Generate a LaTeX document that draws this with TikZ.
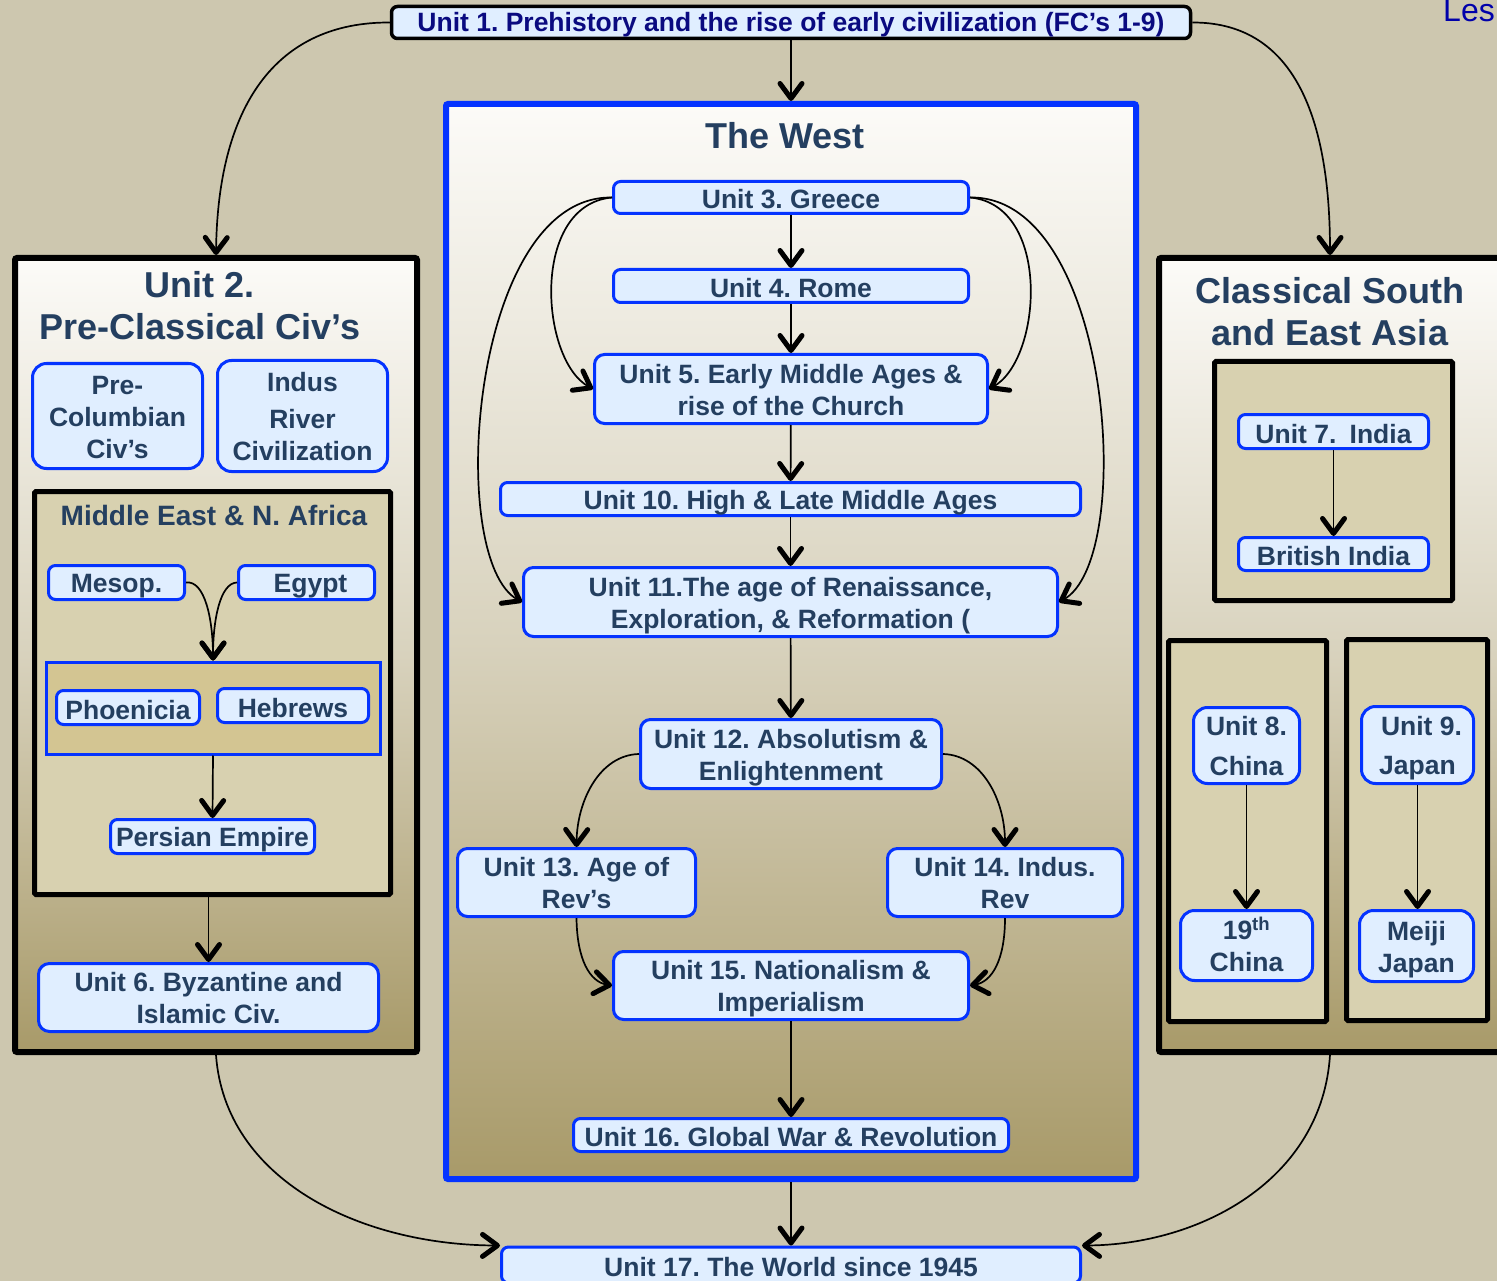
\documentclass[tikz,border=0pt]{standalone}
\usepackage{fontspec}
\setmainfont{Liberation Sans}
\usetikzlibrary{arrows.meta}

\definecolor{bg}{HTML}{CDC7AF}
\definecolor{boxfill}{HTML}{E0EEFF}
\definecolor{boxline}{HTML}{0433FF}
\definecolor{ink}{HTML}{243F60}
\definecolor{navy}{HTML}{0A0A80}
\definecolor{paneltop}{HTML}{FCFBF8}
\definecolor{panelmid}{HTML}{D8D2BD}
\definecolor{panelbot}{HTML}{A89A69}
\definecolor{regionfill}{HTML}{D8D1B0}
\definecolor{groupfill}{HTML}{D3C592}
\definecolor{lesblue}{HTML}{0000AA}

% strut that fixes the height and depth of one-line box labels
\newcommand\ustrut{\rule[-3pt]{0pt}{29pt}}
% centred multi-line label, set a little below the box centre
\newcommand\ml[1]{\raisebox{-4pt}[\height][\depth]{\begin{tabular}{@{}c@{}}#1\end{tabular}}}

\begin{document}
\frenchspacing
\begin{tikzpicture}[x=1pt,y=-1pt,
  unit/.style={draw=boxline, line width=3pt, fill=boxfill, rounded corners=7pt,
    text=ink, font=\bfseries\fontsize{26.5}{32}\selectfont, inner sep=0pt,
    execute at begin node=\ustrut},
  topunit/.style={draw=black, line width=3.5pt, fill=boxfill, rounded corners=6pt,
    text=navy, font=\bfseries\fontsize{26.5}{32}\selectfont, inner sep=0pt,
    text height=23pt, text depth=4pt},
  panel/.style={draw=black, line width=6pt, rounded corners=2pt, inner sep=0pt,
    top color=paneltop, bottom color=panelbot, middle color=panelmid},
  westpanel/.style={panel, draw=boxline},
  region/.style={draw=black, line width=5pt, rounded corners=1.5pt, fill=regionfill, inner sep=0pt},
  group/.style={draw=boxline, line width=3pt, fill=groupfill, inner sep=0pt},
  ttl/.style={text=ink, font=\bfseries\fontsize{36}{42}\selectfont, align=center, inner sep=0pt},
  subttl/.style={text=ink, font=\bfseries\fontsize{28}{32}\selectfont, inner sep=0pt},
  arr/.style={line width=1.7pt, -{Straight Barb[length=15pt,width=22pt,line width=5pt,round]}}
]
\useasboundingbox (0,0) rectangle (1497,1281);
\fill[bg] (0,0) rectangle (1497,1281);

% ---------- large panels ----------
\node[panel, minimum width=402, minimum height=794] (p2) at (216,655) {};
\node[panel, minimum width=342, minimum height=794] (p3) at (1330,655) {};
\node[westpanel, minimum width=690, minimum height=1075] (west) at (791,641.5) {};

% ---------- top and bottom units ----------
\node[topunit, minimum width=799, minimum height=32] (u1) at (791,22.5)
  {Unit 1. Prehistory and the rise of early civilization (FC’s 1-9)};
\node[unit, minimum width=579, minimum height=36] (u17) at (791,1265)
  {Unit 17. The World since 1945};
\node[anchor=base west, text=lesblue, font=\fontsize{32}{36}\selectfont, inner sep=0pt] (les) at (1443,22) {Les};

% ---------- Unit 2 panel ----------
\node[ttl] (t2) at (200,306) {Unit 2.\\Pre-Classical Civ’s};
\node[unit, rounded corners=14pt, minimum width=170, minimum height=105] (precol) at (117.5,416)
  {\ml{Pre-\\Columbian\\Civ’s}};
\node[unit, rounded corners=14pt, minimum width=170, minimum height=111] (indus) at (302.5,416)
  {\ml{Indus\\[5pt]River\\Civilization}};
\node[region, minimum width=356, minimum height=403] (me) at (212.5,693) {};
\node[subttl] (metitle) at (214,515) {Middle East \& N. Africa};
\node[unit, minimum width=136, minimum height=34] (mesop) at (116.5,582.5) {Mesop.};
\node[unit, minimum width=136, minimum height=34] (egypt) at (306.5,582.5) {\hspace{8pt}Egypt};
\node[group, minimum width=334, minimum height=92] (grp) at (213,708) {};
\node[unit, minimum width=143, minimum height=34] (phoen) at (128,707.5) {Phoenicia};
\node[unit, minimum width=151, minimum height=34] (hebr) at (293,705.5) {Hebrews};
\node[unit, minimum width=204, minimum height=34] (pers) at (212.5,836.5) {Persian Empire};
\node[unit, rounded corners=11pt, minimum width=340, minimum height=68] (u6) at (208.5,997.5)
  {\ml{Unit 6. Byzantine and\\Islamic Civ.}};

% ---------- The West ----------
\node[ttl] (twest) at (785,136) {The West};
\node[unit, minimum width=355, minimum height=32] (u3) at (791,197.5) {Unit 3. Greece};
\node[unit, minimum width=355, minimum height=33] (u4) at (791,286) {Unit 4. Rome};
\node[unit, rounded corners=10pt, minimum width=393, minimum height=69] (u5) at (791,389)
  {\ml{Unit 5. Early Middle Ages \&\\rise of the Church}};
\node[unit, minimum width=580, minimum height=33] (u10) at (790.5,499)
  {Unit 10. High \& Late Middle Ages};
\node[unit, rounded corners=10pt, minimum width=534, minimum height=69] (u11) at (790.5,602)
  {\ml{Unit 11.The age of Renaissance,\\Exploration, \& Reformation (}};
\node[unit, rounded corners=10pt, minimum width=301, minimum height=69] (u12) at (791,754)
  {\ml{Unit 12. Absolutism \&\\Enlightenment}};
\node[unit, rounded corners=10pt, minimum width=238, minimum height=68] (u13) at (576.5,882.5)
  {\ml{Unit 13. Age of\\Rev’s}};
\node[unit, rounded corners=10pt, minimum width=235, minimum height=68] (u14) at (1005,882.5)
  {\ml{Unit 14. Indus.\\Rev}};
\node[unit, rounded corners=10pt, minimum width=355, minimum height=68] (u15) at (791,985.5)
  {\ml{Unit 15. Nationalism \&\\Imperialism}};
\node[unit, minimum width=435, minimum height=33] (u16) at (791,1135)
  {Unit 16. Global War \& Revolution};

% ---------- Classical South and East Asia ----------
\node[ttl] (t3) at (1330,311.5) {Classical South\\and East Asia};
\node[region, minimum width=238, minimum height=239] (india) at (1333.5,481) {};
\node[unit, minimum width=190, minimum height=34] (u7) at (1333.5,431.5) {Unit 7.\enspace India};
\node[unit, minimum width=190, minimum height=33] (brit) at (1333.5,554) {British India};
\node[region, minimum width=158, minimum height=381] (china) at (1247.5,831) {};
\node[region, minimum width=141, minimum height=381] (japan) at (1417,830) {};
\node[unit, rounded corners=14pt, minimum width=106, minimum height=76] (u8) at (1246.5,745.5)
  {\ml{Unit 8.\\[8pt]China}};
\node[unit, rounded corners=14pt, minimum width=132, minimum height=70] (c19) at (1246.5,945.5)
  {\ml{19\textsuperscript{th}\\China}};
\node[unit, rounded corners=14pt, minimum width=112, minimum height=77] (u9) at (1417.5,745)
  {\ml{\hspace{8pt}Unit 9.\\[7pt]Japan}};
\node[unit, rounded corners=14pt, minimum width=114, minimum height=71] (meiji) at (1416.5,946)
  {\ml{Meiji\\Japan}};

% ---------- connectors ----------
\draw[arr] (u1.west) .. controls (280,22) and (218,100) .. (p2.north);
\draw[arr] (u1.east) .. controls (1290,22) and (1330,110) .. (p3.north);
\draw[arr] (u1.south) -- (west.north);

\draw[arr] (mesop.east) .. controls (205,580) and (213,620) .. (grp.north);
\draw[arr] (egypt.west) .. controls (220,583) and (213,620) .. (grp.north);
\draw[arr] (grp.south) -- (pers.north);
\draw[arr] (me.south -| u6.north) -- (u6.north);

\draw[arr] (u3) -- (u4);
\draw[arr] (u4) -- (u5);
\draw[arr] (u5) -- (u10);
\draw[arr] (u10) -- (u11);
\draw[arr] (u11) -- (u12);
\draw[arr] (u3.west) .. controls (530,205) and (540,360) .. (u5.west);
\draw[arr] (u3.west) .. controls (470,195) and (445,560) .. (u11.west);
\draw[arr] (u3.east) .. controls (1052,205) and (1042,360) .. (u5.east);
\draw[arr] (u3.east) .. controls (1112,195) and (1137,560) .. (u11.east);
\draw[arr] (u12.west) .. controls (600,755) and (577,800) .. (u13.north);
\draw[arr] (u12.east) .. controls (982,755) and (1005,800) .. (u14.north);
\draw[arr] (u13.south) .. controls (577,960) and (590,982) .. (u15.west);
\draw[arr] (u14.south) .. controls (1005,960) and (992,982) .. (u15.east);
\draw[arr] (u15) -- (u16);

\draw[arr] (u7) -- (brit);
\draw[arr] (u8) -- (c19);
\draw[arr] (u9.south) -- (u9.south |- meiji.north);

\draw[arr] (west.south) -- (u17.north);
\draw[arr] (p2.south) .. controls (225,1180) and (360,1245) .. (u17.north west);
\draw[arr] (p3.south) .. controls (1322,1180) and (1200,1245) .. (u17.north east);
\end{tikzpicture}
\end{document}
